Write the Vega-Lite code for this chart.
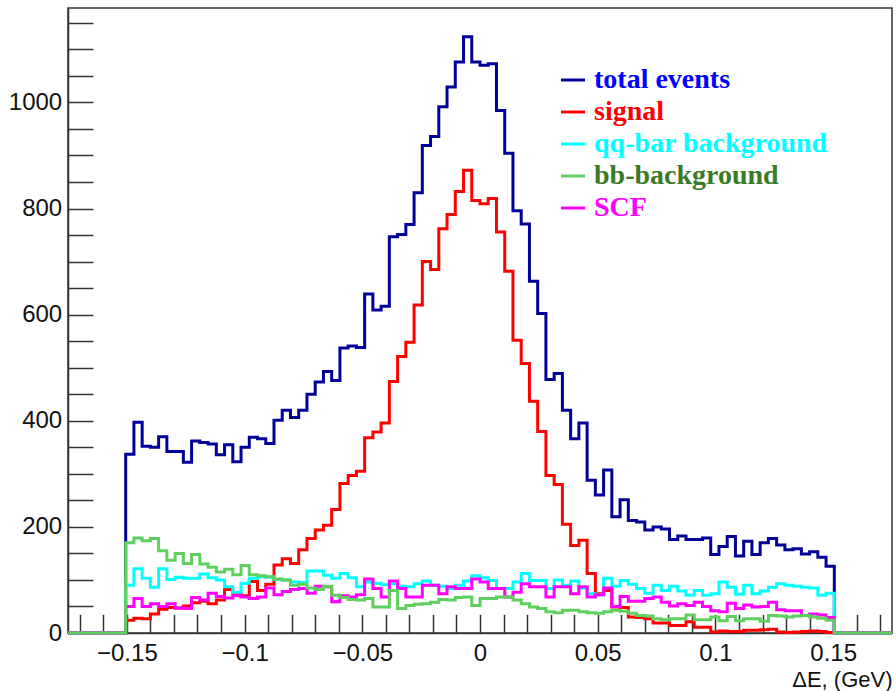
{
  "$schema": "https://vega.github.io/schema/vega-lite/v6.json",
  "width": 824,
  "height": 625,
  "autosize": {"type": "none"},
  "padding": {"left": 68, "top": 8, "right": 4, "bottom": 58},
  "background": "white",
  "config": {"view": {"stroke": "#333333", "strokeWidth": 1.5}, "font": "Liberation Sans"},
  "data": {"values": [
    {"x": -0.175, "total": 0, "signal": 0, "qq": 0, "bb": 0, "scf": 0},
    {"x": -0.1505, "total": 337, "signal": 24, "qq": 90, "bb": 170, "scf": 50},
    {"x": -0.147, "total": 397, "signal": 28, "qq": 121, "bb": 179, "scf": 65},
    {"x": -0.1435, "total": 352, "signal": 27, "qq": 103, "bb": 174, "scf": 50},
    {"x": -0.14, "total": 350, "signal": 36, "qq": 86, "bb": 178, "scf": 55},
    {"x": -0.1365, "total": 370, "signal": 45, "qq": 121, "bb": 155, "scf": 50},
    {"x": -0.133, "total": 342, "signal": 48, "qq": 101, "bb": 137, "scf": 55},
    {"x": -0.1295, "total": 342, "signal": 47, "qq": 105, "bb": 150, "scf": 47},
    {"x": -0.126, "total": 322, "signal": 51, "qq": 103, "bb": 131, "scf": 46},
    {"x": -0.1225, "total": 362, "signal": 57, "qq": 103, "bb": 148, "scf": 67},
    {"x": -0.119, "total": 359, "signal": 60, "qq": 111, "bb": 130, "scf": 62},
    {"x": -0.1155, "total": 356, "signal": 55, "qq": 104, "bb": 124, "scf": 75},
    {"x": -0.112, "total": 336, "signal": 62, "qq": 100, "bb": 115, "scf": 69},
    {"x": -0.1085, "total": 355, "signal": 82, "qq": 87, "bb": 120, "scf": 66},
    {"x": -0.105, "total": 323, "signal": 74, "qq": 77, "bb": 110, "scf": 70},
    {"x": -0.1015, "total": 350, "signal": 70, "qq": 94, "bb": 127, "scf": 68},
    {"x": -0.098, "total": 369, "signal": 97, "qq": 103, "bb": 110, "scf": 65},
    {"x": -0.0945, "total": 366, "signal": 80, "qq": 106, "bb": 108, "scf": 68},
    {"x": -0.091, "total": 357, "signal": 92, "qq": 105, "bb": 106, "scf": 85},
    {"x": -0.0875, "total": 401, "signal": 128, "qq": 101, "bb": 102, "scf": 72},
    {"x": -0.084, "total": 420, "signal": 140, "qq": 100, "bb": 100, "scf": 78},
    {"x": -0.0805, "total": 406, "signal": 131, "qq": 96, "bb": 90, "scf": 82},
    {"x": -0.077, "total": 420, "signal": 157, "qq": 95, "bb": 92, "scf": 84},
    {"x": -0.0735, "total": 450, "signal": 178, "qq": 117, "bb": 85, "scf": 75},
    {"x": -0.07, "total": 473, "signal": 194, "qq": 117, "bb": 82, "scf": 88},
    {"x": -0.0665, "total": 493, "signal": 203, "qq": 109, "bb": 88, "scf": 87},
    {"x": -0.063, "total": 476, "signal": 233, "qq": 103, "bb": 71, "scf": 59},
    {"x": -0.0595, "total": 537, "signal": 282, "qq": 112, "bb": 67, "scf": 70},
    {"x": -0.056, "total": 541, "signal": 297, "qq": 104, "bb": 63, "scf": 68},
    {"x": -0.0525, "total": 538, "signal": 305, "qq": 87, "bb": 62, "scf": 72},
    {"x": -0.049, "total": 639, "signal": 368, "qq": 96, "bb": 65, "scf": 102},
    {"x": -0.0455, "total": 609, "signal": 379, "qq": 94, "bb": 49, "scf": 84},
    {"x": -0.042, "total": 616, "signal": 396, "qq": 91, "bb": 49, "scf": 68},
    {"x": -0.0385, "total": 747, "signal": 474, "qq": 93, "bb": 80, "scf": 98},
    {"x": -0.035, "total": 751, "signal": 521, "qq": 88, "bb": 46, "scf": 84},
    {"x": -0.0315, "total": 770, "signal": 548, "qq": 87, "bb": 52, "scf": 68},
    {"x": -0.028, "total": 830, "signal": 618, "qq": 93, "bb": 54, "scf": 68},
    {"x": -0.0245, "total": 919, "signal": 700, "qq": 98, "bb": 55, "scf": 90},
    {"x": -0.021, "total": 936, "signal": 685, "qq": 90, "bb": 58, "scf": 90},
    {"x": -0.0175, "total": 992, "signal": 762, "qq": 88, "bb": 63, "scf": 74},
    {"x": -0.014, "total": 1029, "signal": 789, "qq": 84, "bb": 62, "scf": 87},
    {"x": -0.0105, "total": 1076, "signal": 832, "qq": 90, "bb": 67, "scf": 84},
    {"x": -0.007, "total": 1124, "signal": 872, "qq": 98, "bb": 68, "scf": 84},
    {"x": -0.0035, "total": 1076, "signal": 815, "qq": 108, "bb": 52, "scf": 102},
    {"x": 0, "total": 1070, "signal": 809, "qq": 104, "bb": 65, "scf": 96},
    {"x": 0.0035, "total": 1073, "signal": 819, "qq": 99, "bb": 65, "scf": 84},
    {"x": 0.007, "total": 985, "signal": 756, "qq": 84, "bb": 68, "scf": 84},
    {"x": 0.0105, "total": 904, "signal": 682, "qq": 84, "bb": 68, "scf": 68},
    {"x": 0.014, "total": 796, "signal": 552, "qq": 96, "bb": 62, "scf": 77},
    {"x": 0.0175, "total": 771, "signal": 508, "qq": 112, "bb": 55, "scf": 93},
    {"x": 0.021, "total": 663, "signal": 437, "qq": 99, "bb": 49, "scf": 87},
    {"x": 0.0245, "total": 602, "signal": 380, "qq": 99, "bb": 46, "scf": 87},
    {"x": 0.028, "total": 478, "signal": 297, "qq": 84, "bb": 40, "scf": 68},
    {"x": 0.0315, "total": 489, "signal": 280, "qq": 100, "bb": 38, "scf": 87},
    {"x": 0.035, "total": 420, "signal": 205, "qq": 90, "bb": 43, "scf": 87},
    {"x": 0.0385, "total": 366, "signal": 165, "qq": 98, "bb": 43, "scf": 74},
    {"x": 0.042, "total": 396, "signal": 175, "qq": 85, "bb": 40, "scf": 87},
    {"x": 0.0455, "total": 288, "signal": 112, "qq": 74, "bb": 38, "scf": 68},
    {"x": 0.049, "total": 260, "signal": 74, "qq": 72, "bb": 37, "scf": 72},
    {"x": 0.0525, "total": 307, "signal": 80, "qq": 103, "bb": 40, "scf": 85},
    {"x": 0.056, "total": 219, "signal": 49, "qq": 88, "bb": 43, "scf": 50},
    {"x": 0.0595, "total": 251, "signal": 48, "qq": 99, "bb": 41, "scf": 69},
    {"x": 0.063, "total": 212, "signal": 30, "qq": 92, "bb": 37, "scf": 60},
    {"x": 0.0665, "total": 209, "signal": 29, "qq": 84, "bb": 33, "scf": 60},
    {"x": 0.07, "total": 194, "signal": 27, "qq": 75, "bb": 32, "scf": 65},
    {"x": 0.0735, "total": 200, "signal": 19, "qq": 90, "bb": 27, "scf": 68},
    {"x": 0.077, "total": 196, "signal": 19, "qq": 80, "bb": 25, "scf": 58},
    {"x": 0.0805, "total": 176, "signal": 14, "qq": 88, "bb": 27, "scf": 51},
    {"x": 0.084, "total": 183, "signal": 14, "qq": 79, "bb": 27, "scf": 55},
    {"x": 0.0875, "total": 176, "signal": 21, "qq": 71, "bb": 34, "scf": 52},
    {"x": 0.091, "total": 176, "signal": 11, "qq": 80, "bb": 25, "scf": 58},
    {"x": 0.0945, "total": 179, "signal": 11, "qq": 71, "bb": 25, "scf": 50},
    {"x": 0.098, "total": 148, "signal": 2, "qq": 74, "bb": 30, "scf": 42},
    {"x": 0.1015, "total": 163, "signal": 4, "qq": 96, "bb": 23, "scf": 40},
    {"x": 0.105, "total": 182, "signal": 3, "qq": 86, "bb": 31, "scf": 56},
    {"x": 0.1085, "total": 145, "signal": 3, "qq": 73, "bb": 23, "scf": 46},
    {"x": 0.112, "total": 173, "signal": 5, "qq": 90, "bb": 27, "scf": 53},
    {"x": 0.1155, "total": 148, "signal": 5, "qq": 74, "bb": 27, "scf": 49},
    {"x": 0.119, "total": 170, "signal": 6, "qq": 79, "bb": 22, "scf": 50},
    {"x": 0.1225, "total": 178, "signal": 7, "qq": 86, "bb": 33, "scf": 58},
    {"x": 0.126, "total": 166, "signal": 2, "qq": 93, "bb": 32, "scf": 44},
    {"x": 0.1295, "total": 157, "signal": 1, "qq": 90, "bb": 30, "scf": 42},
    {"x": 0.133, "total": 159, "signal": 2, "qq": 88, "bb": 32, "scf": 42},
    {"x": 0.1365, "total": 149, "signal": 3, "qq": 86, "bb": 33, "scf": 33},
    {"x": 0.14, "total": 153, "signal": 4, "qq": 85, "bb": 30, "scf": 36},
    {"x": 0.1435, "total": 143, "signal": 3, "qq": 71, "bb": 28, "scf": 34},
    {"x": 0.147, "total": 126, "signal": 1, "qq": 75, "bb": 24, "scf": 29},
    {"x": 0.1505, "total": 0, "signal": 0, "qq": 0, "bb": 0, "scf": 0},
    {"x": 0.175, "total": 0, "signal": 0, "qq": 0, "bb": 0, "scf": 0}
  ]},
  "transform": [{"fold": ["total", "signal", "qq", "scf", "bb"], "as": ["series", "value"]}],
  "mark": {"type": "line", "interpolate": "step-after", "strokeWidth": 3, "strokeJoin": "miter"},
  "encoding": {
    "x": {
      "field": "x", "type": "quantitative",
      "scale": {"domain": [-0.175, 0.175], "nice": false, "zero": false},
      "axis": {
        "values": [-0.17, -0.16, -0.15, -0.14, -0.13, -0.12, -0.11, -0.1, -0.09, -0.08, -0.07, -0.06, -0.05, -0.04, -0.03, -0.02, -0.01, 0, 0.01, 0.02, 0.03, 0.04, 0.05, 0.06, 0.07, 0.08, 0.09, 0.1, 0.11, 0.12, 0.13, 0.14, 0.15, 0.16, 0.17],
        "format": "~g",
        "labelExpr": "abs(round(datum.value*100)) % 5 === 0 ? datum.label : ''",
        "tickSize": -18.7,
        "labelPadding": 27,
        "encode": {"ticks": {"update": {"y2": {"signal": "abs(round(datum.value*100)) % 5 === 0 ? -18.7 : -9.3"}}}},
        "grid": false,
        "domainColor": "#333333", "domainWidth": 1.5,
        "tickColor": "#333333", "tickWidth": 1.5,
        "labelFont": "Liberation Sans", "labelFontSize": 24, "labelColor": "#111111",
        "labelFlush": false, "labelOverlap": false,
        "title": "ΔE, (GeV)",
        "titleFont": "Liberation Sans", "titleFontSize": 22, "titleFontWeight": "normal", "titleColor": "#111111",
        "titleAnchor": "end", "titleAlign": "right", "titleBaseline": "alphabetic", "titleY": 53
      }
    },
    "y": {
      "field": "value", "type": "quantitative",
      "scale": {"domain": [0, 1178], "nice": false},
      "axis": {
        "values": [0, 50, 100, 150, 200, 250, 300, 350, 400, 450, 500, 550, 600, 650, 700, 750, 800, 850, 900, 950, 1000, 1050, 1100, 1150],
        "format": "d",
        "labelExpr": "datum.value % 200 === 0 ? datum.label : ''",
        "tickSize": -25,
        "labelPadding": 31.3,
        "encode": {"ticks": {"update": {"x2": {"signal": "datum.value % 200 === 0 ? 25 : 13"}}}},
        "grid": false,
        "domainColor": "#333333", "domainWidth": 1.5,
        "tickColor": "#333333", "tickWidth": 1.5,
        "labelFont": "Liberation Sans", "labelFontSize": 24, "labelColor": "#111111",
        "labelFlush": false, "labelOverlap": false,
        "title": null
      }
    },
    "color": {
      "field": "series", "type": "nominal",
      "scale": {"domain": ["total", "signal", "qq", "bb", "scf"], "range": ["#000099", "#ff0000", "#00ffff", "#5fcf5f", "#ff00ff"]},
      "legend": {
        "orient": "none", "legendX": 491, "legendY": 58, "title": null, "padding": 0,
        "symbolType": "stroke", "symbolSize": 576, "symbolStrokeWidth": 3,
        "labelFont": "Liberation Serif", "labelFontWeight": "bold", "labelFontSize": 28,
        "labelOffset": 7, "rowPadding": 4, "labelLimit": 400,
        "labelExpr": "datum.value === 'total' ? 'total events' : datum.value === 'signal' ? 'signal' : datum.value === 'qq' ? 'qq-bar background' : datum.value === 'bb' ? 'bb-background' : 'SCF'",
        "encode": {
          "symbols": {"update": {"stroke": {"signal": "datum.value === 'total' ? '#0000ff' : datum.value === 'signal' ? '#ff0000' : datum.value === 'qq' ? '#00ffff' : datum.value === 'bb' ? '#3a7a28' : '#ff00ff'"}}},
          "labels": {"update": {"fill": {"signal": "datum.value === 'total' ? '#0000ff' : datum.value === 'signal' ? '#ff0000' : datum.value === 'qq' ? '#00ffff' : datum.value === 'bb' ? '#3a7a28' : '#ff00ff'"}}}
        }
      }
    }
  }
}
